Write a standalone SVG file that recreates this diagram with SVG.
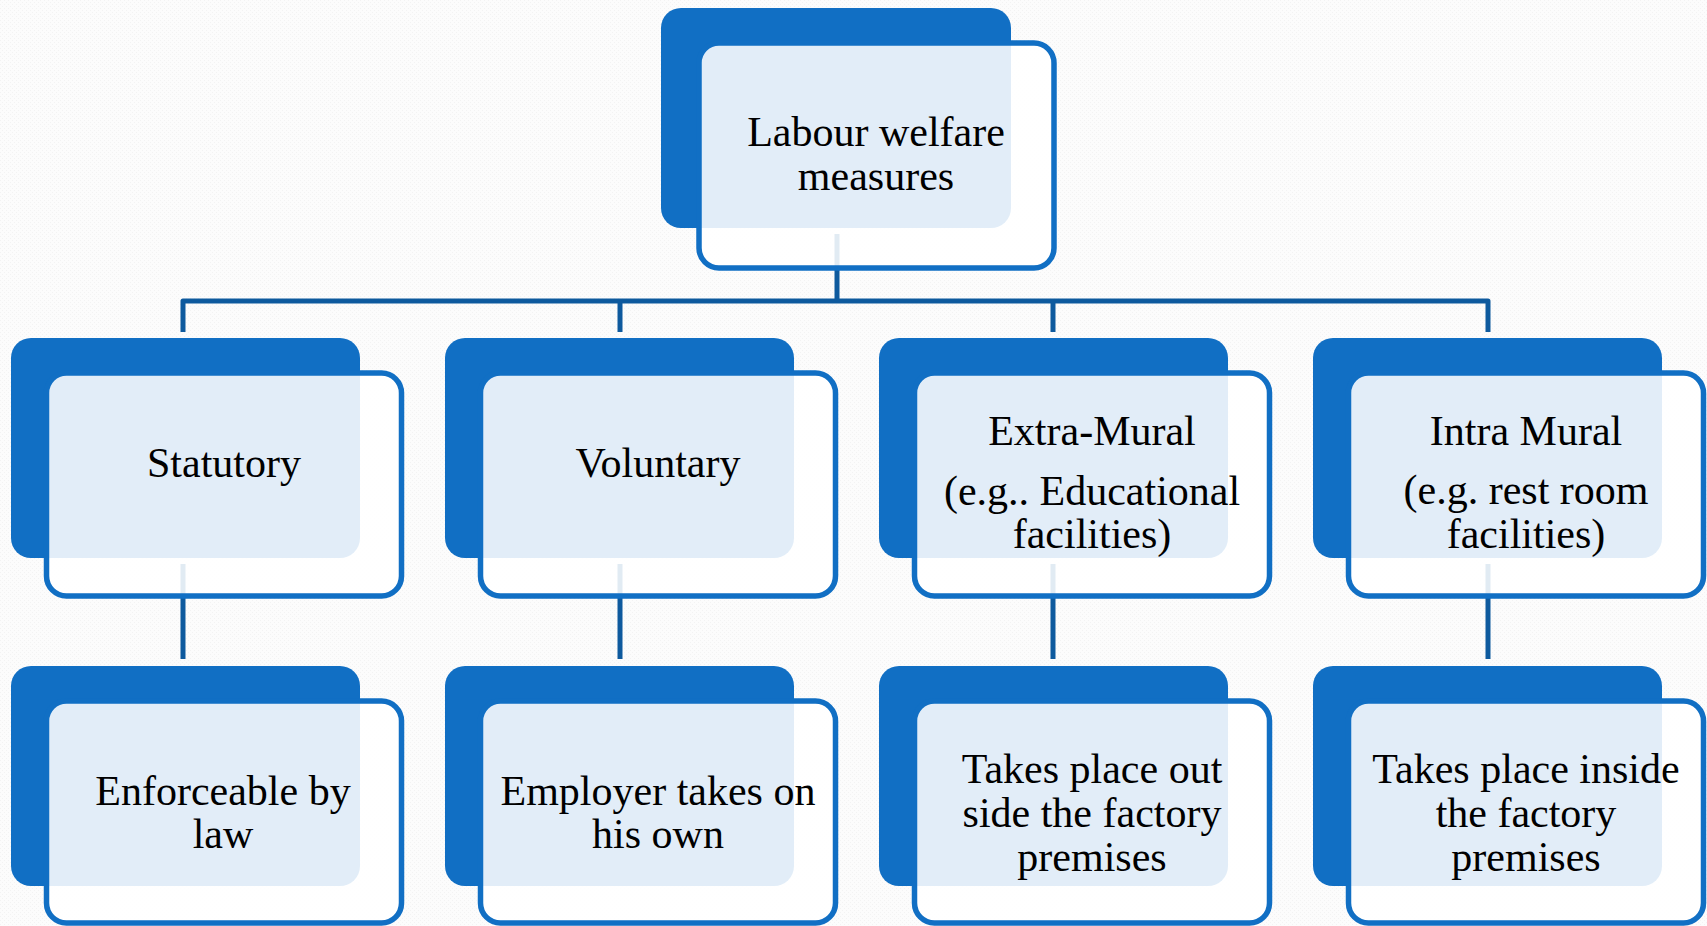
<svg xmlns="http://www.w3.org/2000/svg" width="1707" height="926" viewBox="0 0 1707 926">
  <defs>
    <style>
      .back { fill: #116FC4; }
      .front { fill: #FFFFFF; fill-opacity: 0.88; stroke: #116FC4; stroke-width: 5.5; }
      .wire { fill: none; stroke: #0E5A9E; stroke-width: 5; stroke-linejoin: round; }
      .label { font-family: "Liberation Serif", "Times New Roman", serif; font-size: 42px; fill: #000000; text-anchor: middle; }
    </style>
    <pattern id="grain" width="4" height="4" patternUnits="userSpaceOnUse">
      <rect width="4" height="4" fill="#FCFCFC"/>
      <rect x="0" y="0" width="1" height="1" fill="#F3F3F3"/>
      <rect x="2" y="2" width="1" height="1" fill="#F3F3F3"/>
    </pattern>
  </defs>

  <rect width="1707" height="926" fill="url(#grain)"/>

  <!-- connectors (drawn first so node faces tint them) -->
  <g id="connectors" class="wire">
    <path d="M837 234 V301"/>
    <path d="M183 332 V301 H1488 V332"/>
    <path d="M620 301 V332"/>
    <path d="M1053 301 V332"/>
    <path d="M183 564 V659"/>
    <path d="M620 564 V659"/>
    <path d="M1053 564 V659"/>
    <path d="M1488 564 V659"/>
  </g>

  <!-- root -->
  <g id="node-root">
    <rect class="back" x="661" y="8" width="350" height="220" rx="20"/>
    <rect class="front" x="699" y="43" width="355" height="225" rx="20"/>
    <text class="label" x="876" y="146">Labour welfare</text>
    <text class="label" x="876" y="190">measures</text>
  </g>

  <!-- second level -->
  <g id="node-statutory">
    <rect class="back" x="11" y="338" width="349" height="220" rx="20"/>
    <rect class="front" x="46.5" y="373" width="355" height="223" rx="20"/>
    <text class="label" x="224" y="477">Statutory</text>
  </g>
  <g id="node-voluntary">
    <rect class="back" x="445" y="338" width="349" height="220" rx="20"/>
    <rect class="front" x="480.5" y="373" width="355" height="223" rx="20"/>
    <text class="label" x="658" y="477">Voluntary</text>
  </g>
  <g id="node-extra-mural">
    <rect class="back" x="879" y="338" width="349" height="220" rx="20"/>
    <rect class="front" x="914.5" y="373" width="355" height="223" rx="20"/>
    <text class="label" x="1092" y="445">Extra-Mural</text>
    <text class="label" x="1092" y="505">(e.g.. Educational</text>
    <text class="label" x="1092" y="548">facilities)</text>
  </g>
  <g id="node-intra-mural">
    <rect class="back" x="1313" y="338" width="349" height="220" rx="20"/>
    <rect class="front" x="1348.5" y="373" width="355" height="223" rx="20"/>
    <text class="label" x="1526" y="445">Intra Mural</text>
    <text class="label" x="1526" y="504">(e.g. rest room</text>
    <text class="label" x="1526" y="548">facilities)</text>
  </g>

  <!-- third level -->
  <g id="node-enforceable">
    <rect class="back" x="11" y="666" width="349" height="220" rx="20"/>
    <rect class="front" x="46.5" y="701" width="355" height="222" rx="20"/>
    <text class="label" x="223" y="805">Enforceable by</text>
    <text class="label" x="223" y="848">law</text>
  </g>
  <g id="node-employer">
    <rect class="back" x="445" y="666" width="349" height="220" rx="20"/>
    <rect class="front" x="480.5" y="701" width="355" height="222" rx="20"/>
    <text class="label" x="658" y="805">Employer takes on</text>
    <text class="label" x="658" y="848">his own</text>
  </g>
  <g id="node-outside">
    <rect class="back" x="879" y="666" width="349" height="220" rx="20"/>
    <rect class="front" x="914.5" y="701" width="355" height="222" rx="20"/>
    <text class="label" x="1092" y="783">Takes place out</text>
    <text class="label" x="1092" y="827">side the factory</text>
    <text class="label" x="1092" y="871">premises</text>
  </g>
  <g id="node-inside">
    <rect class="back" x="1313" y="666" width="349" height="220" rx="20"/>
    <rect class="front" x="1348.5" y="701" width="355" height="222" rx="20"/>
    <text class="label" x="1526" y="783">Takes place inside</text>
    <text class="label" x="1526" y="827">the factory</text>
    <text class="label" x="1526" y="871">premises</text>
  </g>
</svg>
